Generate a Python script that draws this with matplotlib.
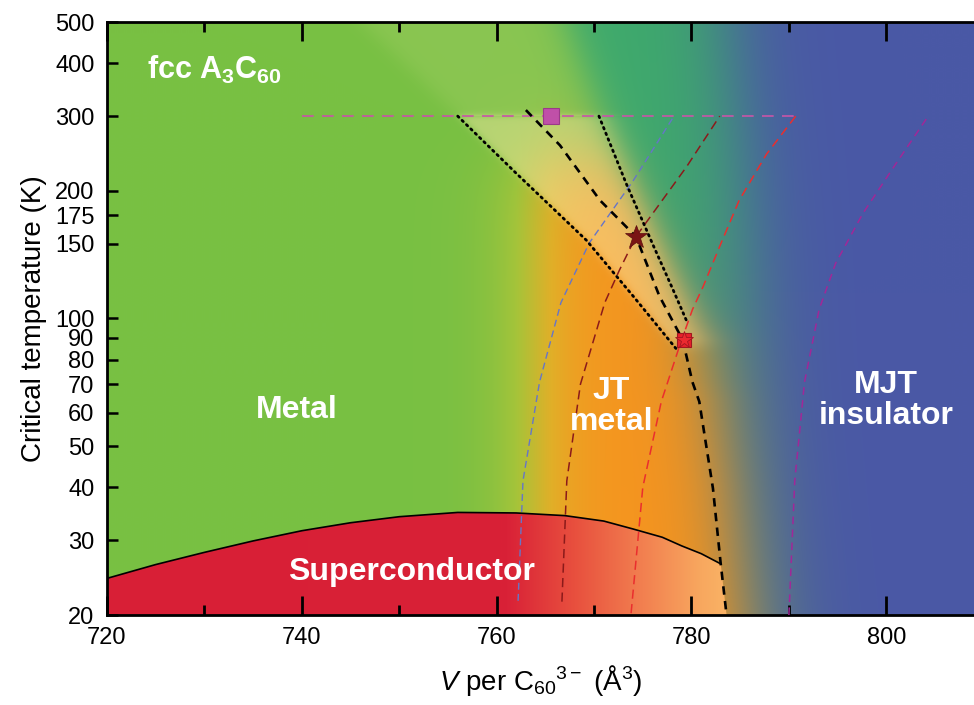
import numpy as np
import matplotlib
matplotlib.use("Agg")
import matplotlib.pyplot as plt
from matplotlib.patches import Polygon
from matplotlib.ticker import NullLocator, FixedLocator, NullFormatter

plt.rcParams['font.family'] = ['Liberation Sans', 'DejaVu Sans']
plt.rcParams['mathtext.fontset'] = 'custom'
plt.rcParams['mathtext.rm'] = 'Liberation Sans'
plt.rcParams['mathtext.it'] = 'Liberation Sans:italic'
plt.rcParams['mathtext.bf'] = 'Liberation Sans:bold'

# ---- data ----
# crossover line (black dashed)
dash_v = [763.0, 766.5, 770.6, 774.3, 776.7, 779.1, 780.1, 780.8, 782.2, 783.0, 783.6]
dash_t = [310, 256, 190, 156, 113, 89, 70.8, 63.7, 39.8, 26.4, 20]
# band edges (black dotted)
ldot_v = [756.0, 762.0, 769.2, 774.0, 778.4]
ldot_t = [300, 220, 153, 113, 85]
rdot_v = [770.5, 773.3, 776.0, 778.1, 779.6]
rdot_t = [300, 208, 150, 117, 97.5]
# superconducting dome
dome_v = [720, 725, 730, 735, 740, 745, 750, 756, 762, 767, 771, 774, 777, 779, 781, 783.0]
dome_t = [24.4, 26.3, 28.1, 29.9, 31.6, 33.0, 34.1, 34.9, 34.8, 34.3, 33.3, 31.9, 30.5, 29.1, 27.9, 26.4]
# thin coloured dashed curves
blue_v = [762.2, 762.7, 764.4, 766.6, 769.5, 774.0, 778.2]
blue_t = [21.6, 41.4, 70.8, 109, 150.6, 211, 300]
dkred_v = [766.7, 767.2, 768.6, 771.1, 772.6, 774.3, 779.5, 782.9]
dkred_t = [21.5, 41.4, 70, 109, 130, 156, 228, 300]
red_v = [773.8, 775.0, 776.9, 778.8, 780.1, 781.2, 782.9, 784.9, 787.7, 790.7]
red_t = [20.2, 40, 63.7, 86.5, 105, 119, 148, 190, 244, 300]
purple_v = [790.0, 790.6, 791.6, 793.1, 794.8, 797.6, 801.0, 804.3]
purple_t = [20, 41.4, 70.8, 105, 135, 177, 232, 300]
hline_v = [740, 790.7]
hline_t = [300, 300]
# markers
sq_mag = (765.6, 300)
sq_red = (779.2, 89)
star_dk = (774.3, 156)

xticks = [720, 740, 760, 780, 800]
yticks = [20, 30, 40, 50, 60, 70, 80, 90, 100, 150, 175, 200, 300, 400, 500]

# ---- background colour field (rows uniform in T, as imshow expects) ----
X0, X1 = 720, 809
T0, T1 = 20, 500
nx, ny = 900, 3000
xs = np.linspace(X0, X1, nx)
ts = np.linspace(T0, T1, ny)
ls = np.log10(ts)
X, L = np.meshgrid(xs, ls)

def sig(z):
    return 1.0 / (1.0 + np.exp(-z))

def interp_log(t, v, lgrid):
    lt = np.log10(np.array(t, float))
    order = np.argsort(lt)
    return np.interp(lgrid, lt[order], np.array(v, float)[order])

xc = interp_log(dash_t, dash_v, ls)
lo_l = np.log10(ldot_t[-1])
lo_r = np.log10(rdot_t[-1])
off_l = ldot_v[-1] - interp_log(dash_t, dash_v, np.array([lo_l]))[0]
off_r = rdot_v[-1] - interp_log(dash_t, dash_v, np.array([lo_r]))[0]
xl = np.where(ls < lo_l, xc + off_l, interp_log(ldot_t, ldot_v, ls))
xr = np.where(ls < lo_r, xc + off_r, interp_log(rdot_t, rdot_v, ls))
top = ls > np.log10(300)
fr = np.clip((ls - np.log10(300)) / (np.log10(500) - np.log10(300)), 0, 1)
xr = np.where(top, 770.5 - 3.5 * fr, xr)
XL = xl[:, None] * np.ones_like(X)
XR = xr[:, None] * np.ones_like(X)

green = np.array([120, 192, 67]) / 255
blue = np.array([74, 88, 166]) / 255
teal_hi = np.array([62, 170, 108]) / 255
teal_lo = np.array([88, 138, 118]) / 255
ft = sig((L - np.log10(110)) / 0.12)[..., None]
teal = teal_lo * (1 - ft) + teal_hi * ft

ramp_t = [0, 0.35, 0.7, 1.0]
ramp_c = np.array([[120, 192, 67], [165, 196, 58], [225, 175, 40], [247, 148, 30]]) / 255
t_or = sig((X - 763.5) / 2.5)
C0 = np.stack([np.interp(t_or, ramp_t, ramp_c[:, k]) for k in range(3)], axis=-1)
w_or = sig((np.log10(240) - L) / 0.05)[..., None]
C = green * (1 - w_or) + C0 * w_or

wid = 1.2 + 1.0 * sig((np.log10(95) - L) / 0.04)
s1 = sig((X - XR - 0.5 * (wid - 1.2)) / wid)[..., None]
C = C * (1 - s1) + teal * s1
XB = 789.5 - 6.0 * (L - np.log10(T0)) / (np.log10(T1) - np.log10(T0))
s2 = sig((X - XB) / 2.5)[..., None]
C = C * (1 - s2) + blue * s2

# crossover band overlay
band = (0.45 * sig((X - XL) / 0.3) * sig((XR + 0.5 - X) / 1.0)
        * sig((L - np.log10(86)) / 0.01) * sig((np.log10(300) - L) / 0.004))
wl = 756.0 - 10.0 * fr
wr = 770.5 - 3.5 * fr
wedge = (0.13 * sig((X - wl[:, None]) / 0.8) * sig((wr[:, None] - X) / 1.5)
         * top[:, None])
a = (band + wedge)[..., None]
light = np.array([255, 236, 175]) / 255
C = C * (1 - a) + light * a

fig = plt.figure(figsize=(9.74, 7.05), dpi=100)
ax = fig.add_axes([107 / 974, 90 / 705, 867 / 974, 593 / 705])
ax.set_yscale('log')
ax.imshow(np.clip(C, 0, 1), extent=[X0, X1, T0, T1], origin='lower',
          aspect='auto', interpolation='bilinear', zorder=0)

# superconducting dome with gradient fill
dome_poly = list(zip(dome_v, dome_t)) + [(dash_v[-1], dash_t[-1]), (720, 20)]
gx = [720, 761, 768, 775, 781, 784]
gc = np.array([[216, 31, 54], [217, 33, 55], [232, 80, 62], [242, 128, 80],
               [248, 168, 95], [250, 180, 102]]) / 255
Dg = np.stack([np.interp(xs, gx, gc[:, k]) for k in range(3)], axis=-1)
Dg = np.repeat(Dg[None, :, :], 10, axis=0)
dimg = ax.imshow(Dg, extent=[X0, X1, T0, 40], origin='lower', aspect='auto', zorder=1)
patch = Polygon(dome_poly, closed=True, facecolor='none', edgecolor='none',
                transform=ax.transData)
ax.add_patch(patch)
dimg.set_clip_path(patch)
ax.plot(dome_v, dome_t, color='black', lw=1.2, zorder=3)

# thin dashed curves
ax.plot(blue_v, blue_t, color='#6675c8', lw=1.0, dashes=(5, 3), zorder=3)
ax.plot(dkred_v, dkred_t, color='#8b1a1a', lw=1.1, dashes=(6, 3.5), zorder=3)
ax.plot(red_v, red_t, color='#ea2e2e', lw=1.1, dashes=(6, 3.5), zorder=3)
ax.plot(purple_v, purple_t, color='#a02898', lw=1.1, dashes=(5, 3.5), zorder=3)
ax.plot(hline_v, hline_t, color='#c855a8', lw=1.2, dashes=(7, 5), zorder=3)

# crossover lines
ax.plot(ldot_v, ldot_t, color='black', lw=2.0, ls=(0, (0.6, 1.6)),
        dash_capstyle='round', zorder=4)
ax.plot(rdot_v, rdot_t, color='black', lw=2.0, ls=(0, (0.6, 1.6)),
        dash_capstyle='round', zorder=4)
ax.plot(dash_v, dash_t, color='black', lw=1.9, dashes=(3.2, 2.4), zorder=4)

# markers
ax.plot(*sq_mag, marker='s', ms=11.5, mfc='#c050a8', mec='#9a3a88', mew=0.8, zorder=5)
ax.plot(*sq_red, marker='s', ms=10.5, mfc='#e8202a', mec='#a01820', mew=0.8, zorder=5)
ax.plot(*sq_red, marker='*', ms=13, mfc='#ec2a30', mec='#a01820', mew=0.6, zorder=6)
ax.plot(*star_dk, marker='*', ms=17, mfc='#7a1414', mec='#5a0e0e', mew=0.5, zorder=6)

# region labels
kw = dict(color='white', fontweight='bold', fontsize=23, ha='center', va='center', zorder=7)
ax.text(739.5, 61, 'Metal', **kw)
ax.text(771.8, 62, 'JT\nmetal', linespacing=1.05, **kw)
ax.text(800.0, 64, 'MJT\ninsulator', linespacing=1.05, **kw)
ax.text(751.3, 25.2, 'Superconductor', **kw)
ax.text(724.1, 368, r'fcc A$_{\mathbf{3}}$C$_{\mathbf{60}}$', color='white',
        fontweight='bold', fontsize=22, ha='left', va='baseline', zorder=7)

ax.set_xlim(X0, X1)
ax.set_ylim(T0, T1)
ax.set_xticks(xticks)
ax.xaxis.set_minor_locator(FixedLocator([730, 750, 770, 790]))
ax.yaxis.set_major_locator(FixedLocator(yticks))
ax.yaxis.set_minor_locator(NullLocator())
ax.set_yticklabels([str(t) for t in yticks])
ax.yaxis.set_minor_formatter(NullFormatter())
ax.tick_params(axis='x', which='major', direction='in', length=14, width=2,
               top=True, labelsize=17, pad=9)
ax.tick_params(axis='x', which='minor', direction='in', length=7, width=2, top=True)
ax.tick_params(axis='y', which='major', direction='in', length=8, width=1.8,
               labelsize=17, pad=9)
for s in ['left', 'bottom', 'top']:
    ax.spines[s].set_linewidth(2)
ax.spines['right'].set_visible(False)

ax.set_ylabel('Critical temperature (K)', fontsize=20, labelpad=6)
ax.set_xlabel(r'$V$ per C$_{60}$$^{3-}$ (Å$^3$)', fontsize=20, labelpad=10)

fig.savefig('out.png', dpi=100)
